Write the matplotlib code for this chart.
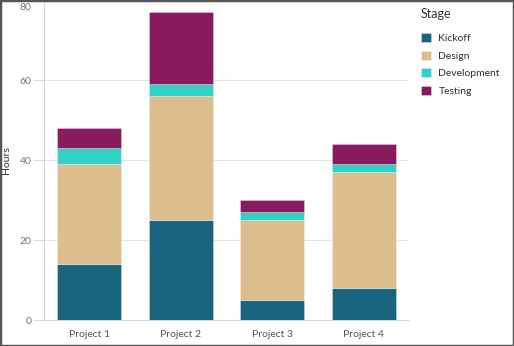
import matplotlib
matplotlib.use("Agg")
import matplotlib.pyplot as plt
from matplotlib.patches import Rectangle
from matplotlib.transforms import ScaledTranslation
import numpy as np

projects = ["Project 1", "Project 2", "Project 3", "Project 4"]
stages = ["Kickoff", "Design", "Development", "Testing"]
kickoff = [14, 25, 5, 8]
design = [25, 31, 20, 29]
development = [4, 3, 2, 2]
testing = [5, 18, 3, 5]
colors = ["#19647e", "#dcbe8e", "#33d0c6", "#8a1a5e"]
y_ticks = [0, 20, 40, 60, 80]

plt.rcParams["font.family"] = ["Lato", "DejaVu Sans"]

W, H = 514, 346
fig = plt.figure(figsize=(W / 100, H / 100), dpi=100)
ax = fig.add_axes([0.085, 0.0743, 0.7115, 0.925])

x = np.arange(len(projects))
bottom = np.zeros(len(projects))
handles = []
for name, vals, col in zip(stages, [kickoff, design, development, testing], colors):
    bars = ax.bar(x, vals, width=0.7, bottom=bottom, color=col,
                  edgecolor=(1, 1, 1, 0.35), linewidth=0.6, label=name, zorder=3)
    handles.append(bars)
    bottom += np.array(vals)

ax.set_xlim(-0.5, 3.5)
ax.set_ylim(0, 80)
ax.set_yticks(y_ticks)
ax.set_xticks(x)
ax.set_xticklabels(projects)
ax.grid(axis="y", color="#e6e6e6", linewidth=0.8, zorder=0)
ax.tick_params(axis="y", length=7, width=0.8, color="#d9d9d9",
               labelcolor="#777777", labelsize=7.5, pad=2)
ax.tick_params(axis="x", length=0, labelcolor="#555555", labelsize=7.5, pad=7)

# keep the top tick label inside the figure
fig.canvas.draw()
top_lbl = ax.yaxis.get_major_ticks()[-1].label1
top_lbl.set_transform(top_lbl.get_transform()
                      + ScaledTranslation(0, -6 / 100, fig.dpi_scale_trans))

for side in ["top", "right"]:
    ax.spines[side].set_visible(False)
for side in ["left", "bottom"]:
    ax.spines[side].set_color("#d9d9d9")
    ax.spines[side].set_linewidth(0.8)

fig.text(0.012, 0.538, "Hours", rotation=90, ha="center", va="center",
         fontsize=7.5, color="#333333")

# Legend: title drawn separately, entries below it
fig.text(421 / W, 1 - 14 / H, "Stage", ha="left", va="center",
         fontsize=9, color="#333333")
leg = fig.legend(handles=handles, labels=stages,
                 loc="upper left", bbox_to_anchor=(417 / W, 1 - 29 / H),
                 frameon=False, borderaxespad=0, borderpad=0.4,
                 fontsize=7.5, handlelength=0.95, handleheight=0.95,
                 handletextpad=0.7, labelspacing=0.72)
for t in leg.get_texts():
    t.set_color("#333333")

fig.patches.append(Rectangle((0, 0), 1, 1, transform=fig.transFigure,
                             fill=False, edgecolor="#555555", linewidth=2.5))

fig.savefig("out.png", dpi=100)
